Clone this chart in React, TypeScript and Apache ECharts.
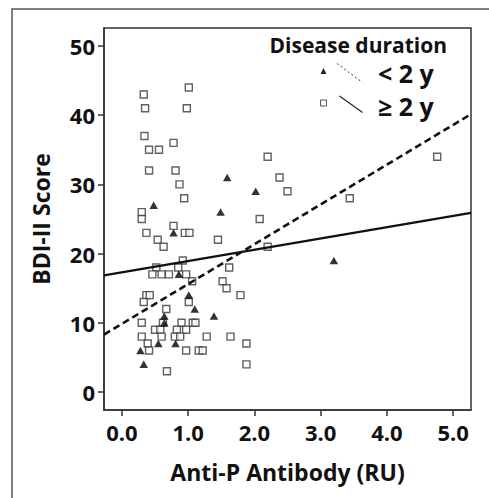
import React, { useEffect, useRef } from "react";
import * as echarts from "echarts";

// Disease duration >= 2 y (open squares): [Anti-P antibody (RU), BDI-II score]
const longDuration: [number, number][] = [
  [0.33, 43], [1.01, 44], [0.35, 41], [0.98, 41], [0.34, 37], [0.78, 36],
  [0.41, 35], [0.56, 35], [0.41, 32], [0.81, 32], [0.87, 30], [0.94, 28],
  [0.3, 26], [0.3, 25], [0.37, 23], [0.78, 24], [0.95, 23], [1.02, 23],
  [0.54, 22], [0.63, 21], [1.45, 22], [0.92, 19], [0.52, 18], [0.85, 18],
  [0.46, 17], [0.6, 17], [0.71, 17], [0.97, 17], [1.06, 16], [1.62, 18],
  [1.52, 16], [1.58, 15], [0.37, 14], [0.42, 14], [0.33, 13], [1.01, 13],
  [0.67, 12], [0.3, 10], [0.62, 10], [0.9, 10], [1.07, 10], [1.11, 10],
  [0.5, 9], [0.58, 9], [0.83, 9], [0.97, 9], [0.3, 8], [0.6, 8],
  [0.8, 8], [0.88, 8], [1.28, 8], [1.64, 8], [0.39, 7], [0.41, 6],
  [0.97, 6], [1.16, 6], [1.22, 6], [0.68, 3], [2.2, 34], [4.76, 34],
  [2.38, 31], [2.5, 29], [2.08, 25], [3.44, 28], [2.2, 21], [1.79, 14],
  [1.88, 7], [1.88, 4],
];

// Disease duration < 2 y (filled triangles)
const shortDuration: [number, number][] = [
  [1.59, 31], [0.48, 27], [1.49, 26], [0.78, 23], [0.86, 17], [1.01, 14],
  [1.1, 12], [1.39, 11], [0.64, 11], [0.64, 10], [0.55, 7], [0.81, 7],
  [0.28, 6], [0.33, 4], [2.02, 29], [3.2, 19],
];

// Linear fits
const fitShort = { intercept: 9.85, slope: 5.75 };
const fitLong = { intercept: 17.3, slope: 1.63 };

const xTicks = [0, 1, 2, 3, 4, 5];
const yTicks = [0, 10, 20, 30, 40, 50];
const xRange = [-0.27, 5.27];
const yRange = [-2.6, 52.6];

const legendTitle = "Disease duration";
const legendShort = "< 2 y";
const legendLong = "≥ 2 y";
const xTitle = "Anti-P Antibody (RU)";
const yTitle = "BDI-II Score";

const FONT = "'Open Sans', 'DejaVu Sans', sans-serif";

function fitLine(fit: { intercept: number; slope: number }): [number, number][] {
  return xRange.map((x) => [x, fit.intercept + fit.slope * x] as [number, number]);
}

export default function App() {
  const ref = useRef<HTMLDivElement>(null);

  useEffect(() => {
    if (!ref.current) return;
    const chart = echarts.init(ref.current, null, { renderer: "svg" });
    chart.setOption({
      animation: false,
      backgroundColor: "#fff",
      grid: {
        left: 104,
        top: 28,
        width: 367,
        height: 382,
        show: true,
        borderColor: "#333",
        borderWidth: 1.5,
        backgroundColor: "#fff",
      },
      xAxis: {
        type: "value",
        min: xRange[0],
        max: xRange[1],
        name: xTitle,
        nameLocation: "middle",
        nameGap: 50,
        nameTextStyle: { fontFamily: FONT, fontSize: 23, fontWeight: "bold", color: "#111" },
        axisLine: { show: true, onZero: false, lineStyle: { color: "#333", width: 1.5 } },
        axisTick: { show: true, length: 6, customValues: xTicks, lineStyle: { color: "#333", width: 1.5 } },
        axisLabel: {
          customValues: xTicks,
          formatter: (v: number) => v.toFixed(1),
          fontFamily: FONT,
          fontSize: 22,
          fontWeight: "bold",
          color: "#111",
          margin: 11,
        },
        splitLine: { show: false },
      },
      yAxis: {
        type: "value",
        min: yRange[0],
        max: yRange[1],
        name: yTitle,
        nameLocation: "middle",
        nameRotate: 90,
        nameGap: 52,
        nameTextStyle: { fontFamily: FONT, fontSize: 23, fontWeight: "bold", color: "#111" },
        axisLine: { show: true, onZero: false, lineStyle: { color: "#333", width: 1.5 } },
        axisTick: { show: true, length: 6, customValues: yTicks, lineStyle: { color: "#333", width: 1.5 } },
        axisLabel: {
          customValues: yTicks,
          fontFamily: FONT,
          fontSize: 22,
          fontWeight: "bold",
          color: "#111",
          margin: 9,
        },
        splitLine: { show: false },
      },
      series: [
        {
          type: "scatter",
          name: legendLong,
          data: longDuration,
          symbol: "rect",
          symbolSize: 7,
          itemStyle: { color: "#fff", borderColor: "#3a3a3a", borderWidth: 1.4 },
          z: 3,
        },
        {
          type: "scatter",
          name: legendShort,
          data: shortDuration,
          symbol: "triangle",
          symbolSize: [8.5, 7.5],
          itemStyle: { color: "#000" },
          z: 4,
        },
        {
          type: "line",
          data: fitLine(fitShort),
          symbol: "none",
          clip: true,
          lineStyle: { color: "#111", width: 2.6, type: [7, 4] },
          z: 5,
        },
        {
          type: "line",
          data: fitLine(fitLong),
          symbol: "none",
          clip: true,
          lineStyle: { color: "#111", width: 2.4 },
          z: 5,
        },
      ],
      graphic: [
        {
          type: "rect",
          shape: { x: 12, y: 9, width: 520, height: 520 },
          style: { fill: "none", stroke: "#555", lineWidth: 1.5 },
          silent: true,
          z: 0,
        },
        {
          type: "text",
          x: 447,
          y: 45,
          style: {
            text: legendTitle,
            align: "right",
            verticalAlign: "middle",
            fontFamily: FONT,
            fontSize: 21,
            fontWeight: "bold",
            fill: "#111",
          },
          z: 10,
        },
        {
          type: "polygon",
          shape: { points: [[323.5, 68], [320.5, 74], [326.5, 74]] },
          style: { fill: "#222" },
          z: 10,
        },
        {
          type: "line",
          shape: { x1: 337, y1: 63.5, x2: 362.5, y2: 82.5 },
          style: { stroke: "#333", lineWidth: 1, lineDash: [2, 2.5] },
          z: 10,
        },
        {
          type: "text",
          x: 378,
          y: 73,
          style: {
            text: legendShort,
            align: "left",
            verticalAlign: "middle",
            fontFamily: FONT,
            fontSize: 25,
            fontWeight: "bold",
            fill: "#111",
          },
          z: 10,
        },
        {
          type: "rect",
          shape: { x: 320.5, y: 100, width: 6, height: 6 },
          style: { fill: "#fff", stroke: "#555", lineWidth: 1 },
          z: 10,
        },
        {
          type: "line",
          shape: { x1: 339.5, y1: 96, x2: 362.5, y2: 112.5 },
          style: { stroke: "#222", lineWidth: 1.2 },
          z: 10,
        },
        {
          type: "text",
          x: 378,
          y: 106,
          style: {
            text: legendLong,
            align: "left",
            verticalAlign: "middle",
            fontFamily: FONT,
            fontSize: 25,
            fontWeight: "bold",
            fill: "#111",
          },
          z: 10,
        },
      ],
    });
    return () => chart.dispose();
  }, []);

  return (
    <div
      ref={ref}
      style={{ position: "fixed", left: 0, top: 0, width: 489, height: 498, background: "#fff" }}
    />
  );
}
